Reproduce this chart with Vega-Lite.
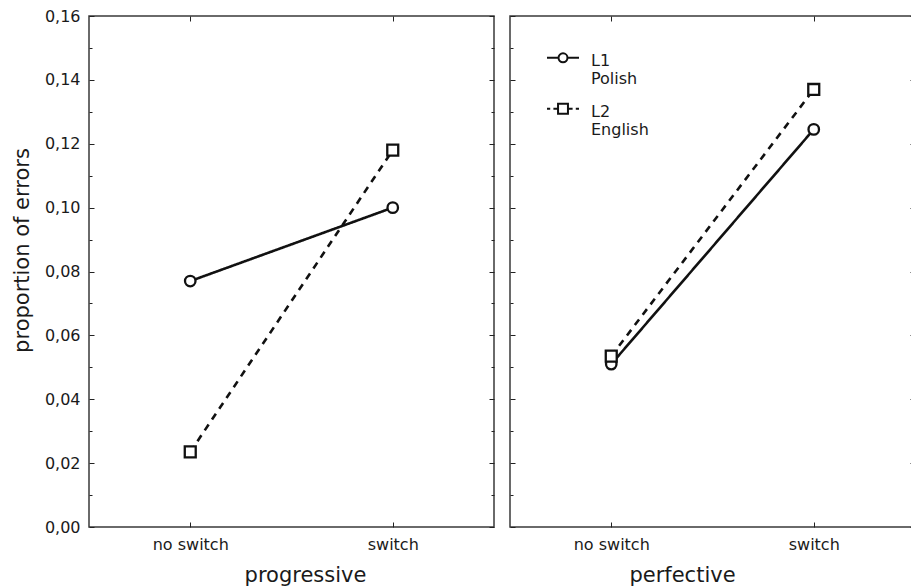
{
  "$schema": "https://vega.github.io/schema/vega-lite/v6.json",
  "padding": {"left": 10, "top": 7, "right": 0, "bottom": 0},
  "background": "white",
  "config": {
    "font": "DejaVu Sans",
    "view": {"stroke": "#3a3a3a", "strokeWidth": 1.5},
    "axis": {
      "grid": false,
      "domain": false,
      "tickColor": "#222",
      "tickWidth": 1,
      "labelColor": "#1a1a1a",
      "titleColor": "#1a1a1a",
      "labelFont": "DejaVu Sans",
      "titleFont": "DejaVu Sans",
      "labelFontSize": 16,
      "titleFontSize": 21,
      "titleFontWeight": "normal"
    },
    "legend": {"labelFont": "DejaVu Sans", "labelFontSize": 16, "labelColor": "#1a1a1a"}
  },
  "data": {
    "values": [
      {"aspect": "progressive", "condition": "no switch", "language": "L1", "value": 0.077},
      {"aspect": "progressive", "condition": "switch", "language": "L1", "value": 0.1},
      {"aspect": "progressive", "condition": "no switch", "language": "L2", "value": 0.0235},
      {"aspect": "progressive", "condition": "switch", "language": "L2", "value": 0.118},
      {"aspect": "perfective", "condition": "no switch", "language": "L1", "value": 0.051},
      {"aspect": "perfective", "condition": "switch", "language": "L1", "value": 0.1245},
      {"aspect": "perfective", "condition": "no switch", "language": "L2", "value": 0.0535},
      {"aspect": "perfective", "condition": "switch", "language": "L2", "value": 0.137}
    ]
  },
  "spacing": 12,
  "resolve": {"scale": {"shape": "independent"}, "legend": {"shape": "independent"}},
  "hconcat": [
    {
      "width": 405,
      "height": 511,
      "transform": [{"filter": "datum.aspect == 'progressive'"}],
      "resolve": {"axis": {"x": "independent", "y": "independent"}},
      "layer": [
        {
          "mark": {"type": "line", "color": "#111", "strokeWidth": 2.6},
          "encoding": {
            "x": {
              "field": "condition", "type": "nominal", "sort": ["no switch", "switch"],
              "scale": {"type": "point", "padding": 0.5},
              "axis": {"orient": "bottom", "title": "progressive", "labelAngle": 0, "tickSize": -5, "labelPadding": 14, "titlePadding": 12, "titleX": 216}
            },
            "y": {
              "field": "value", "type": "quantitative", "scale": {"domain": [0, 0.16], "nice": false},
              "axis": {
                "orient": "left",
                "title": "proportion of errors",
                "titleY": 234,
                "values": [0, 0.01, 0.02, 0.03, 0.04, 0.05, 0.06, 0.07, 0.08, 0.09, 0.1, 0.11, 0.12, 0.13, 0.14, 0.15, 0.16],
                "labelExpr": "round(datum.value*100) % 2 == 0 ? replace(format(datum.value, '.2f'), '.', ',') : ''",
                "tickSize": {"condition": {"test": "round(datum.value*100) % 2 == 0", "value": -5}, "value": -3},
                "labelPadding": 14,
                "titlePadding": 12
              }
            },
            "strokeDash": {"field": "language", "type": "nominal", "scale": {"domain": ["L1", "L2"], "range": [[1, 0], [7, 6]]}, "legend": null}
          }
        },
        {
          "transform": [{"filter": "datum.language == 'L1'"}],
          "mark": {"type": "point", "shape": "circle", "size": 110, "filled": true, "fill": "white", "stroke": "#111", "strokeWidth": 2.3, "opacity": 1},
          "encoding": {
            "x": {"field": "condition", "type": "nominal", "sort": ["no switch", "switch"], "axis": null},
            "y": {"field": "value", "type": "quantitative", "axis": null}
          }
        },
        {
          "transform": [{"filter": "datum.language == 'L2'"}],
          "mark": {"type": "point", "shape": "square", "size": 120, "filled": true, "fill": "white", "stroke": "#111", "strokeWidth": 2.3, "opacity": 1},
          "encoding": {
            "x": {"field": "condition", "type": "nominal", "sort": ["no switch", "switch"], "axis": null},
            "y": {"field": "value", "type": "quantitative", "axis": null}
          }
        },
        {
          "mark": {"type": "point", "opacity": 0},
          "encoding": {
            "x": {"field": "condition", "type": "nominal", "sort": ["no switch", "switch"], "axis": {"orient": "top", "labels": false, "title": null, "tickSize": -5}},
            "y": {
              "field": "value", "type": "quantitative",
              "axis": {
                "orient": "right", "labels": false, "title": null,
                "values": [0, 0.01, 0.02, 0.03, 0.04, 0.05, 0.06, 0.07, 0.08, 0.09, 0.1, 0.11, 0.12, 0.13, 0.14, 0.15, 0.16],
                "tickSize": {"condition": {"test": "round(datum.value*100) % 2 == 0", "value": -5}, "value": -3}
              }
            }
          }
        }
      ]
    },
    {
      "width": 405,
      "height": 511,
      "transform": [{"filter": "datum.aspect == 'perfective'"}],
      "resolve": {"axis": {"x": "independent", "y": "independent"}},
      "layer": [
        {
          "mark": {"type": "line", "color": "#111", "strokeWidth": 2.6},
          "encoding": {
            "x": {
              "field": "condition", "type": "nominal", "sort": ["no switch", "switch"],
              "scale": {"type": "point", "padding": 0.5},
              "axis": {"orient": "bottom", "title": "perfective", "labelAngle": 0, "tickSize": -5, "labelPadding": 14, "titlePadding": 12, "titleX": 172}
            },
            "y": {
              "field": "value", "type": "quantitative", "scale": {"domain": [0, 0.16], "nice": false},
              "axis": {
                "orient": "left",
                "title": null,
                "labels": false,
                "values": [0, 0.01, 0.02, 0.03, 0.04, 0.05, 0.06, 0.07, 0.08, 0.09, 0.1, 0.11, 0.12, 0.13, 0.14, 0.15, 0.16],
                "tickSize": {"condition": {"test": "round(datum.value*100) % 2 == 0", "value": -5}, "value": -3}
              }
            },
            "strokeDash": {"field": "language", "type": "nominal", "scale": {"domain": ["L1", "L2"], "range": [[1, 0], [7, 6]]}, "legend": null}
          }
        },
        {
          "transform": [{"filter": "datum.language == 'L1'"}],
          "mark": {"type": "point", "shape": "circle", "size": 110, "filled": true, "fill": "white", "stroke": "#111", "strokeWidth": 2.3, "opacity": 1},
          "encoding": {
            "x": {"field": "condition", "type": "nominal", "sort": ["no switch", "switch"], "axis": null},
            "y": {"field": "value", "type": "quantitative", "axis": null}
          }
        },
        {
          "transform": [{"filter": "datum.language == 'L2'"}],
          "mark": {"type": "point", "shape": "square", "size": 120, "filled": true, "fill": "white", "stroke": "#111", "strokeWidth": 2.3, "opacity": 1},
          "encoding": {
            "x": {"field": "condition", "type": "nominal", "sort": ["no switch", "switch"], "axis": null},
            "y": {"field": "value", "type": "quantitative", "axis": null}
          }
        },
        {
          "mark": {"type": "point", "filled": false, "stroke": "#111", "strokeWidth": 2, "size": 1024, "opacity": 0},
          "encoding": {
            "x": {"field": "condition", "type": "nominal", "sort": ["no switch", "switch"], "axis": {"orient": "top", "labels": false, "title": null, "tickSize": -5}},
            "y": {
              "field": "value", "type": "quantitative",
              "axis": {
                "orient": "right", "labels": false, "title": null,
                "values": [0, 0.01, 0.02, 0.03, 0.04, 0.05, 0.06, 0.07, 0.08, 0.09, 0.1, 0.11, 0.12, 0.13, 0.14, 0.15, 0.16],
                "tickSize": {"condition": {"test": "round(datum.value*100) % 2 == 0", "value": -5}, "value": -3}
              }
            },
            "shape": {
              "field": "language", "type": "nominal",
              "scale": {
                "domain": ["L1", "L2"],
                "range": [
                  "M-1,0.3H-0.28M0.28,0.3A0.28,0.28 0 1 1 -0.28,0.3A0.28,0.28 0 1 1 0.28,0.3M0.28,0.3H1",
                  "M-1,0.3H-0.8M-0.6,0.3H-0.31M-0.31,-0.01H0.31V0.61H-0.31ZM0.31,0.3H0.6M0.8,0.3H1"
                ]
              },
              "legend": {
                "title": null,
                "orient": "none",
                "legendX": 36,
                "legendY": 20,
                "padding": 0,
                "symbolSize": 1024,
                "symbolStrokeWidth": 2,
                "symbolStrokeColor": "#111",
                "symbolFillColor": "white",
                "symbolOpacity": 1,
                "labelOffset": 11,
                "labelBaseline": "top",
                "rowPadding": -11,
                "labelExpr": "datum.label == 'L1' ? ['L1', 'Polish'] : ['L2', 'English']"
              }
            }
          }
        }
      ]
    }
  ]
}
